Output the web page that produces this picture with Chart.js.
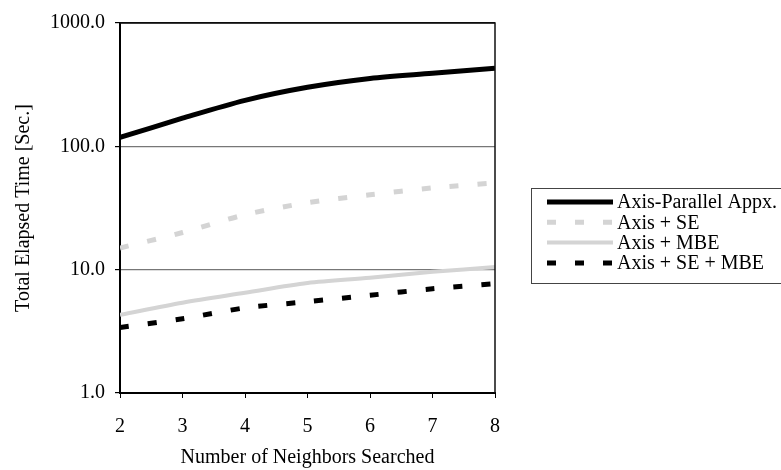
<!DOCTYPE html>
<html>
<head>
<meta charset="utf-8">
<script src="https://cdn.jsdelivr.net/npm/chart.js@4"></script>
<style>
  html, body { margin: 0; padding: 0; background: #fff; }
  #wrap { width: 781px; height: 470px; }
</style>
</head>
<body>
<div id="wrap"><canvas id="neighborsChart" width="781" height="470"></canvas></div>
<script>
var neighbors = [2, 3, 4, 5, 6, 7, 8];
var axisParallel = [118, 169, 236, 301, 355, 391, 430];
var axisSE = [15, 20, 27.9, 34.9, 40.5, 46, 50.7];
var axisMBE = [4.3, 5.4, 6.5, 7.8, 8.6, 9.6, 10.5];
var axisSEMBE = [3.4, 4.0, 4.9, 5.5, 6.2, 7.0, 7.7];
var yTicks = [1, 10, 100, 1000];
var seriesNames = ['Axis-Parallel Appx.', 'Axis + SE', 'Axis + MBE', 'Axis + SE + MBE'];

var serif = '"Liberation Serif", "DejaVu Serif", serif';
var lightGray = '#d4d4d4';

function toPoints(values) {
  return values.map(function(v, i) { return { x: neighbors[i], y: v }; });
}

// legend box + frame drawn by hand so it can run off the right edge like the original
var frameAndLegend = {
  id: 'frameAndLegend',
  afterDatasetsDraw: function(chart) {
    var ctx = chart.ctx;
    var a = chart.chartArea;
    ctx.save();
    ctx.strokeStyle = '#111';
    ctx.lineWidth = 1.5;
    ctx.beginPath();
    ctx.moveTo(a.left, a.top);
    ctx.lineTo(a.right, a.top);
    ctx.lineTo(a.right, a.bottom);
    ctx.stroke();

    ctx.strokeStyle = '#444';
    ctx.lineWidth = 1;
    ctx.strokeRect(531.5, 188.5, 300, 95);

    ctx.font = '20px ' + serif;
    ctx.textBaseline = 'middle';
    ctx.fillStyle = '#000';
    chart.data.datasets.forEach(function(ds, i) {
      var y = 202 + i * 20.3;
      ctx.beginPath();
      ctx.strokeStyle = ds.borderColor;
      ctx.lineWidth = ds.borderWidth;
      ctx.setLineDash(ds.borderDash || []);
      ctx.moveTo(547, y);
      ctx.lineTo(613, y);
      ctx.stroke();
      ctx.setLineDash([]);
      ctx.fillText(ds.label, 617, y + 1);
    });
    ctx.restore();
  }
};

new Chart(document.getElementById('neighborsChart'), {
  type: 'line',
  data: {
    datasets: [
      { label: seriesNames[0], data: toPoints(axisParallel), borderColor: '#000', borderWidth: 5 },
      { label: seriesNames[1], data: toPoints(axisSE), borderColor: lightGray, borderWidth: 5, borderDash: [9, 19] },
      { label: seriesNames[2], data: toPoints(axisMBE), borderColor: lightGray, borderWidth: 4 },
      { label: seriesNames[3], data: toPoints(axisSEMBE), borderColor: '#000', borderWidth: 5, borderDash: [9, 19] }
    ]
  },
  options: {
    responsive: false,
    animation: false,
    layout: { padding: { top: 23, right: 286, left: 0, bottom: 0 } },
    elements: {
      point: { radius: 0 },
      line: { tension: 0.3, borderCapStyle: 'butt' }
    },
    plugins: {
      legend: { display: false },
      tooltip: { enabled: false }
    },
    scales: {
      x: {
        type: 'linear',
        min: 2,
        max: 8,
        ticks: { stepSize: 1, color: '#000', font: { family: serif, size: 20 }, padding: 17 },
        grid: { drawOnChartArea: false, color: '#000', tickLength: 5 },
        border: { color: '#000', width: 2 },
        title: { display: true, text: 'Number of Neighbors Searched', color: '#000', font: { family: serif, size: 20 }, padding: { top: 10, bottom: 0 } },
        afterFit: function(scale) { scale.height = 77; }
      },
      y: {
        type: 'logarithmic',
        min: 1,
        max: 1000,
        afterBuildTicks: function(scale) {
          scale.ticks = yTicks.map(function(v) { return { value: v }; });
        },
        ticks: {
          color: '#000',
          font: { family: serif, size: 20 },
          padding: 10,
          callback: function(v) { return Number(v).toFixed(1); }
        },
        grid: {
          color: function(c) { return (c.tick && (c.tick.value === 1 || c.tick.value === 1000)) ? '#000' : '#777'; },
          tickColor: '#000',
          lineWidth: 1.2,
          tickLength: 5
        },
        border: { color: '#000', width: 2 },
        title: { display: true, text: 'Total Elapsed Time [Sec.]', color: '#000', font: { family: serif, size: 20 }, padding: { top: 12, bottom: 0 } },
        afterFit: function(scale) { scale.width = 120; }
      }
    }
  },
  plugins: [frameAndLegend]
});
</script>
</body>
</html>
